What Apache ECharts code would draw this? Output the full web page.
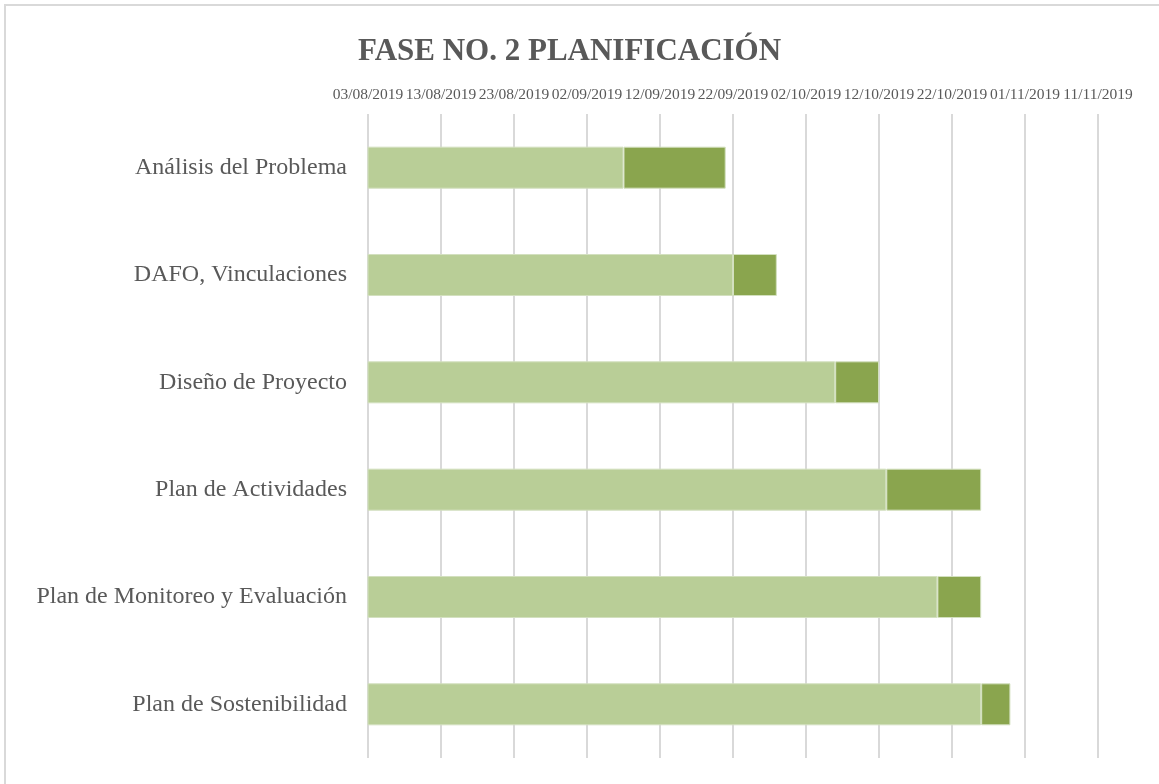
<!doctype html>
<html lang="es">
<head>
<meta charset="UTF-8">
<title>Fase No. 2 Planificación</title>
<script src="https://cdn.jsdelivr.net/npm/echarts@6/dist/echarts.min.js"></script>
<style>
  html, body { margin: 0; padding: 0; background: #fff; }
  #main { width: 1159px; height: 784px; }
</style>
</head>
<body>
<div id="main"></div>
<script>
// tareas de la fase 2
var tareas = ['Análisis del Problema', 'DAFO, Vinculaciones', 'Diseño de Proyecto',
              'Plan de Actividades', 'Plan de Monitoreo y Evaluación', 'Plan de Sostenibilidad'];
var inicio = ['2019-09-07', '2019-09-22', '2019-10-06', '2019-10-13', '2019-10-20', '2019-10-26'];
var duracion = [14, 6, 6, 13, 6, 4];

var ejeMin = '2019-08-03';
var ejeMax = '2019-11-11';

// fecha -> numero de serie tipo Excel
function serie(s) {
    var p = s.split('-');
    return Date.UTC(+p[0], +p[1] - 1, +p[2]) / 86400000 + 25569;
}
function fecha(n) {
    var d = new Date((n - 25569) * 86400000);
    var dd = ('0' + d.getUTCDate()).slice(-2);
    var mm = ('0' + (d.getUTCMonth() + 1)).slice(-2);
    return dd + '/' + mm + '/' + d.getUTCFullYear();
}

var myChart = echarts.init(document.getElementById('main'));
var gris = '#595959';

option = {
    animation: false,
    // marco del grafico
    graphic: [{
        type: 'rect',
        shape: { x: 5, y: 5, width: 1170, height: 800 },
        style: { fill: 'none', stroke: '#d9d9d9', lineWidth: 2 },
        silent: true
    }],
    title: {
        text: 'FASE NO. 2 PLANIFICACIÓN',
        left: 353,
        top: 31,
        textStyle: {
            fontFamily: 'Liberation Serif',
            fontWeight: 'bold',
            fontSize: 31,
            color: gris
        }
    },
    grid: {
        left: 368,
        right: 61,
        top: 114,
        bottom: 26
    },
    xAxis: {
        type: 'value',
        position: 'top',
        min: serie(ejeMin),
        max: serie(ejeMax),
        interval: 10,
        axisLine: { show: false },
        axisTick: { show: false },
        axisLabel: {
            margin: 11,
            fontFamily: 'Liberation Serif',
            fontSize: 15.5,
            color: gris,
            formatter: function (v) { return fecha(v); }
        },
        splitLine: {
            show: true,
            lineStyle: { color: '#d9d9d9', width: 2 }
        }
    },
    yAxis: {
        type: 'category',
        inverse: true,
        data: tareas,
        axisLine: { show: false },
        axisTick: { show: false },
        axisLabel: {
            margin: 21,
            fontFamily: 'Liberation Serif',
            fontSize: 24,
            color: gris
        }
    },
    series: [{
        name: 'Inicio',
        type: 'bar',
        stack: 'g',
        barWidth: 42,
        itemStyle: { color: '#b9ce97', borderColor: '#d3e0bf', borderWidth: 1 },
        data: inicio.map(serie)
    }, {
        name: 'Duración',
        type: 'bar',
        stack: 'g',
        barWidth: 42,
        itemStyle: { color: '#8aa54e', borderColor: '#d3e0bf', borderWidth: 1 },
        data: duracion
    }]
};

myChart.setOption(option);
</script>
</body>
</html>
